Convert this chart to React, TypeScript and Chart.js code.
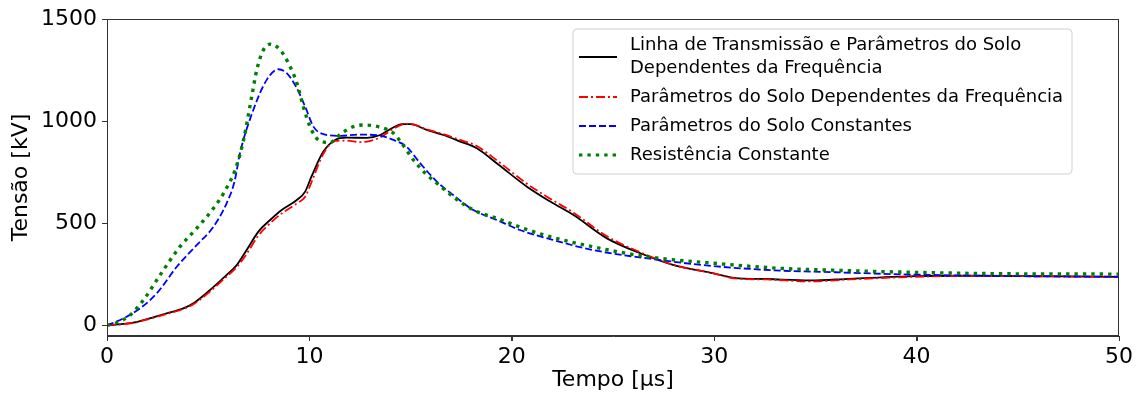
import React, { useEffect, useRef } from "react";
import { Chart, registerables } from "chart.js";

Chart.register(...registerables);

const FONT = "'DejaVu Sans', 'Liberation Sans', sans-serif";

const seriesLabels: string[][] = [
  ["Linha de Transmissão e Parâmetros do Solo", "Dependentes da Frequência"],
  ["Parâmetros do Solo Dependentes da Frequência"],
  ["Parâmetros do Solo Constantes"],
  ["Resistência Constante"],
];

const tBlack = [0, 1.3, 2.1, 2.95, 3.77, 4.27, 5.09, 5.9, 6.41, 6.9, 7.48, 8.06, 8.63, 9.38, 9.79, 10.1, 10.69, 11.27, 11.85, 12.84, 13.5, 14.07, 14.57, 14.98, 15.8, 16.62, 17.45, 18.27, 19.3, 20.75, 21.9, 23.05, 24.7, 26.35, 28.0, 29.97, 31.0, 32.6, 34.75, 36.7, 40, 42.5, 50];
const vBlack = [0, 13, 34, 59, 83, 108, 173, 246, 295, 369, 459, 516, 565, 614, 655, 728, 851, 908, 919, 918, 932, 965, 985, 985, 957, 932, 900, 867, 790, 679, 606, 540, 426, 353, 295, 255, 233, 227, 220, 228, 241, 243, 237];

const tRed = [0, 1.3, 2.1, 2.95, 3.77, 4.27, 5.09, 5.9, 6.41, 6.9, 7.48, 8.06, 8.63, 9.38, 9.79, 10.1, 10.69, 11.27, 11.85, 12.5, 12.84, 13.5, 14.07, 14.57, 14.98, 15.8, 16.62, 17.45, 18.27, 19.3, 20.75, 21.9, 23.05, 24.7, 26.35, 28.0, 29.97, 31.0, 32.6, 34.75, 36.7, 40, 42.5, 50];
const vRed = [0, 12, 32, 56, 80, 103, 166, 238, 285, 350, 440, 500, 548, 597, 630, 700, 840, 903, 905, 897, 900, 920, 958, 983, 987, 960, 936, 908, 878, 805, 693, 620, 552, 436, 358, 296, 255, 230, 225, 215, 225, 238, 242, 237];

const tBlue = [0, 0.81, 1.63, 2.46, 3.45, 4.43, 5.26, 5.92, 6.3, 6.57, 7.23, 7.89, 8.47, 8.88, 9.38, 9.79, 10.2, 10.69, 11.52, 12.5, 13.5, 14.15, 14.8, 15.47, 16.3, 17.1, 18.1, 19.26, 20.4, 21.9, 24.0, 26.7, 30.0, 33.3, 36, 39.2, 44.1, 50];
const vBlue = [0, 34, 83, 157, 287, 393, 483, 600, 704, 843, 1055, 1202, 1254, 1235, 1161, 1071, 973, 936, 928, 934, 929, 908, 875, 794, 704, 638, 565, 516, 467, 422, 369, 328, 290, 268, 260, 250, 242, 238];

const tGreen = [0, 0.48, 1.14, 1.8, 2.62, 3.6, 4.43, 5.26, 5.76, 6.33, 6.74, 7.15, 7.4, 7.73, 8.06, 8.55, 8.96, 9.38, 9.7, 10.03, 10.44, 11.0, 11.6, 12.17, 12.67, 13.5, 14.15, 14.56, 15.14, 15.72, 16.3, 17.1, 18.1, 19.26, 20.58, 21.9, 24.0, 26.7, 30.0, 33.3, 36.0, 39.2, 44.1, 50];
const vGreen = [0, 13, 50, 124, 246, 385, 475, 573, 647, 761, 905, 1120, 1251, 1349, 1377, 1349, 1284, 1186, 1071, 973, 908, 895, 941, 973, 981, 970, 941, 892, 810, 745, 696, 630, 565, 524, 475, 434, 385, 336, 304, 279, 270, 261, 253, 251];

const xTicks = [0, 10, 20, 30, 40, 50];
const yTicks = [0, 500, 1000, 1500];

const colors = ["#000000", "#ff0000", "#0000ff", "#008000"];
const widths = [1.8, 1.8, 1.8, 3.4];
const dashes: number[][] = [[], [9, 3, 2, 3], [7, 3], [3.4, 5]];

const toPts = (t: number[], v: number[]) => t.map((x, i) => ({ x, y: v[i] }));

const framePlugin = {
  id: "mplFrame",
  afterDatasetsDraw(chart: any) {
    const { ctx, chartArea: a, scales } = chart;
    ctx.save();
    ctx.strokeStyle = "#333";
    ctx.lineWidth = 1;
    ctx.strokeRect(a.left + 0.5, a.top + 0.5, a.right - a.left - 1, a.bottom - a.top - 1);
    ctx.beginPath();
    xTicks.forEach((v) => {
      const px = Math.round(scales.x.getPixelForValue(v)) + 0.5;
      ctx.moveTo(px, a.bottom);
      ctx.lineTo(px, a.bottom + 5);
    });
    yTicks.forEach((v) => {
      const py = Math.round(scales.y.getPixelForValue(v)) + 0.5;
      ctx.moveTo(a.left, py);
      ctx.lineTo(a.left - 5, py);
    });
    ctx.stroke();
    ctx.restore();
  },
};

const legendPlugin = {
  id: "mplLegend",
  afterDraw(chart: any) {
    const { ctx, chartArea: a } = chart;
    const x0 = a.right - 546;
    const y0 = a.top + 10;
    const w = 499;
    const h = 145;
    ctx.save();
    ctx.beginPath();
    const r = 4;
    ctx.moveTo(x0 + r, y0);
    ctx.arcTo(x0 + w, y0, x0 + w, y0 + h, r);
    ctx.arcTo(x0 + w, y0 + h, x0, y0 + h, r);
    ctx.arcTo(x0, y0 + h, x0, y0, r);
    ctx.arcTo(x0, y0, x0 + w, y0, r);
    ctx.closePath();
    ctx.fillStyle = "rgba(255,255,255,0.85)";
    ctx.fill();
    ctx.strokeStyle = "#d0d0d0";
    ctx.lineWidth = 1;
    ctx.stroke();

    ctx.font = `18px ${FONT}`;
    ctx.textBaseline = "middle";
    ctx.textAlign = "left";
    ctx.fillStyle = "#000";
    const rowsLineY = [y0 + 28, y0 + 68, y0 + 97, y0 + 126];
    const rowsTextY = [[y0 + 16, y0 + 39], [y0 + 68], [y0 + 97], [y0 + 126]];
    for (let i = 0; i < seriesLabels.length; i++) {
      ctx.beginPath();
      ctx.strokeStyle = colors[i];
      ctx.lineWidth = widths[i] * (i === 3 ? 0.9 : 1);
      ctx.setLineDash(dashes[i]);
      ctx.moveTo(x0 + 6, rowsLineY[i]);
      ctx.lineTo(x0 + 44, rowsLineY[i]);
      ctx.stroke();
      ctx.setLineDash([]);
      seriesLabels[i].forEach((txt, j) => {
        ctx.fillText(txt, x0 + 57, rowsTextY[i][j]);
      });
    }
    ctx.restore();
  },
};

export default function App() {
  const ref = useRef<HTMLCanvasElement | null>(null);
  useEffect(() => {
    if (!ref.current) return;
    const series = [toPts(tBlack, vBlack), toPts(tRed, vRed), toPts(tBlue, vBlue), toPts(tGreen, vGreen)];
    const chart = new Chart(ref.current, {
      type: "line",
      data: {
        datasets: series.map((d, i) => ({
          label: seriesLabels[i].join(" "),
          data: d,
          borderColor: colors[i],
          backgroundColor: colors[i],
          borderWidth: widths[i],
          borderDash: dashes[i],
          pointRadius: 0,
          cubicInterpolationMode: "monotone" as const,
          fill: false,
          order: 4 - i,
        })),
      },
      options: {
        animation: false,
        responsive: true,
        maintainAspectRatio: false,
        layout: { padding: { top: 19, right: 21, left: 0, bottom: 0 } },
        plugins: { legend: { display: false }, tooltip: { enabled: false } },
        scales: {
          x: {
            type: "linear",
            min: 0,
            max: 50,
            afterBuildTicks: (s: any) => {
              s.ticks = xTicks.map((v) => ({ value: v }));
            },
            afterFit: (s: any) => {
              s.height = 61;
            },
            grid: { drawOnChartArea: false, drawTicks: true, tickLength: 5, color: "#333", tickColor: "#333", tickWidth: 1 },
            border: { color: "#333", width: 1 },
            ticks: {
              font: { family: FONT, size: 22 },
              color: "#000",
              padding: 3,
              maxRotation: 0,
              callback: (v: any) => String(v),
            },
            title: {
              display: true,
              text: "Tempo [µs]",
              font: { family: FONT, size: 22 },
              color: "#000",
              padding: { top: 0, bottom: 4 },
            },
          },
          y: {
            type: "linear",
            min: -52,
            max: 1500,
            afterBuildTicks: (s: any) => {
              s.ticks = yTicks.map((v) => ({ value: v }));
            },
            afterFit: (s: any) => {
              s.width = 107;
            },
            grid: { drawOnChartArea: false, drawTicks: true, tickLength: 5, color: "#333", tickColor: "#333", tickWidth: 1 },
            border: { color: "#333", width: 1 },
            ticks: {
              font: { family: FONT, size: 22 },
              color: "#000",
              padding: 5,
              callback: (v: any) => String(v),
            },
            title: {
              display: true,
              text: "Tensão [kV]",
              font: { family: FONT, size: 22 },
              color: "#000",
              padding: { top: 8, bottom: 0 },
            },
          },
        },
      },
      plugins: [framePlugin, legendPlugin],
    });
    return () => chart.destroy();
  }, []);
  return (
    <div style={{ position: "absolute", left: 0, top: 0, width: 1140, height: 397 }}>
      <canvas ref={ref} style={{ display: "block" }} />
    </div>
  );
}
